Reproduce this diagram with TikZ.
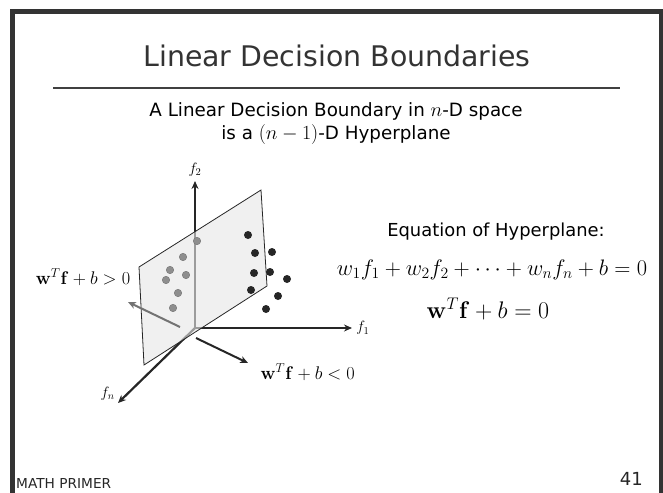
\RequirePackage{fix-cm}
\documentclass[tikz,border=0pt]{standalone}
\usepackage{amsmath, amssymb}
\usepackage[no-math]{fontspec}
\setmainfont{DejaVu Sans}
\usepackage{tikz}
\usetikzlibrary{arrows.meta, positioning}
\usepackage{xcolor}
\definecolor{framegray}{HTML}{333333}
\definecolor{planegray}{HTML}{E6E6E6}
\definecolor{dotgray}{HTML}{8E8E8E}

\newcommand{\submath}[1]{{\fontsize{20}{22}\selectfont$#1$}}

\tikzset{
  axis/.style={line width=2.2pt, draw=black!85, -{Stealth[length=8pt, width=7pt]}},
  normalarrow/.style={line width=2pt, -{Stealth[length=8pt, width=7pt]}},
  graydot/.style={circle, inner sep=0pt, minimum size=7.5pt, fill=dotgray, draw=black!55, line width=0.4pt},
  blackdot/.style={circle, inner sep=0pt, minimum size=8pt, fill=black!85},
  axislabel/.style={font=\fontsize{15}{17}\selectfont},
  sidelabel/.style={font=\fontsize{18.3}{22}\selectfont},
}

\begin{document}
\begin{tikzpicture}[x=1pt, y=-1pt]
    \useasboundingbox (0,0) rectangle (663,492);

    % Slide frame
    \draw[line width=4.5pt, framegray, line join=miter] (12.5,500) -- (12.5,11.7) -- (661,11.7) -- (661,500);

    % Title and rule
    \node[anchor=base, text=black!80, font=\fontsize{28.4}{34}\selectfont] (title) at (337,67) {Linear Decision Boundaries};
    \draw[line width=1.3pt, black!75] (53,88) -- (620,88);

    % Subtitle
    \node[anchor=base, font=\fontsize{18.3}{22}\selectfont] (sub1) at (336,116.5) {A Linear Decision Boundary in \submath{n}-D space};
    \node[anchor=base, font=\fontsize{18.3}{22}\selectfont] (sub2) at (336,139.5) {is a \submath{(n-1)}-D Hyperplane};

    % Axes
    \coordinate (O) at (195,328);
    \coordinate (f1tip) at (352,328);
    \coordinate (f2tip) at (195,181);
    \coordinate (fntip) at (118,403);
    \draw[axis] (O) -- (f1tip) node[axislabel, right] (f1) {$f_1$};
    \draw[axis] (O) -- (f2tip) node[axislabel, above] (f2) {$f_2$};
    \draw[axis] (O) -- (fntip) node[axislabel, above left=-2pt and -1pt] (fn) {$f_n$};

    % Hyperplane (axes behind it show through in grey)
    \coordinate (P1) at (139,267);
    \coordinate (P2) at (261,190);
    \coordinate (P3) at (267,286);
    \coordinate (P4) at (144,365);
    \fill[planegray, fill opacity=0.62] (P1) -- (P2) -- (P3) -- (P4) -- cycle;
    \draw[line width=0.8pt, black!85] (P1) -- (P2) -- (P3) -- (P4) -- cycle;

    % Normal directions
    \coordinate (nb) at (180,327);
    \coordinate (nbtip) at (128,302);
    \coordinate (nf) at (196,338);
    \coordinate (nftip) at (248,363);
    \draw[normalarrow, black!55] (nb) -- (nbtip);
    \draw[normalarrow, black!85] (nf) -- (nftip);

    % Samples
    \foreach \x/\y [count=\i] in {197/241, 183/257, 170/270, 186/275, 166/280, 178/293, 173/308}
      \node[graydot] (g\i) at (\x,\y) {};
    \foreach \x/\y [count=\i] in {248/235, 255/253, 272/252, 254/273, 270/272, 287/279, 251/290, 278/296, 266/309}
      \node[blackdot] (k\i) at (\x,\y) {};

    % Half-space labels
    \node[sidelabel] (pos) at (83,277) {$\mathbf{w}^T\mathbf{f}+b>0$};
    \node[sidelabel, anchor=west] (neg) at (257,372) {$\mathbf{w}^T\mathbf{f}+b<0$};

    % Equations
    \node[anchor=base, font=\fontsize{17.9}{21}\selectfont] (eqtitle) at (496,236.5) {Equation of Hyperplane:};
    \node[anchor=base, font=\fontsize{22.4}{27}\selectfont] (eqlong) at (492,275) {$w_1f_1+w_2f_2+\cdots+w_nf_n+b=0$};
    \node[anchor=base, font=\fontsize{24}{28}\selectfont] (eqshort) at (488,318.5) {$\mathbf{w}^T\mathbf{f}+b=0$};

    % Footer
    \node[anchor=base west, inner sep=0pt, text=black!85, font=\fontsize{13.7}{16}\selectfont] (footer) at (16,488) {MATH PRIMER};
    \node[anchor=base east, inner sep=0pt, text=black!85, font=\fontsize{18}{21}\selectfont] (pagenum) at (643,485) {41};
\end{tikzpicture}
\end{document}
